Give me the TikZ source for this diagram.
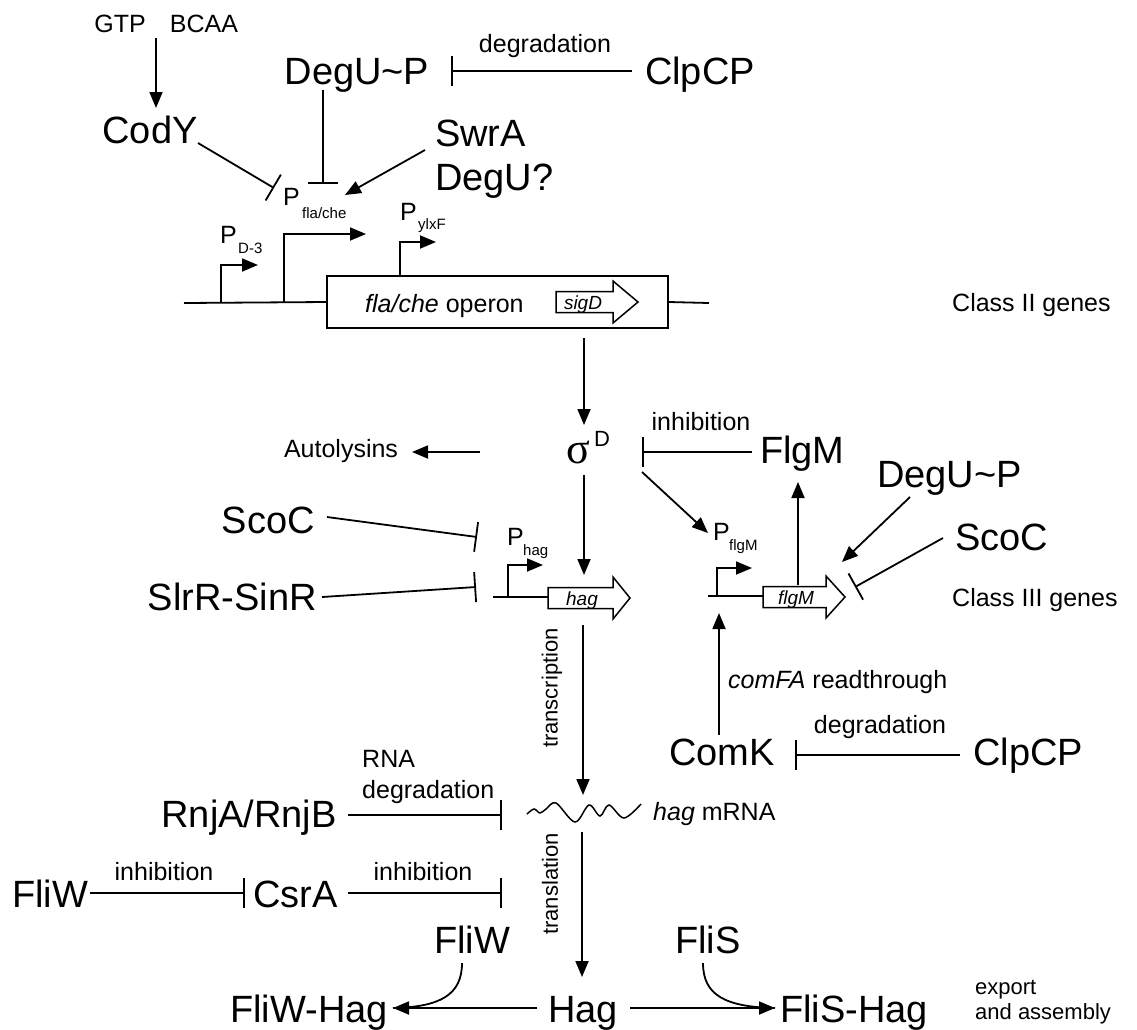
\documentclass[tikz,border=0pt]{standalone}
\usepackage{fontspec}
\setmainfont{Liberation Sans}
\newfontfamily\sigmafont{Liberation Serif}
\usetikzlibrary{arrows.meta}
\newcommand{\drawgene}[4]{%
  \draw[genebox] (#1,#4-10.5) -- (#2,#4-10.5) -- (#2,#4-21) -- (#3,#4) -- (#2,#4+21) -- (#2,#4+10.5) -- (#1,#4+10.5) -- cycle;}
\begin{document}
\begin{tikzpicture}[x=1pt,y=-1pt,
  big/.style={font=\fontsize{38}{40}\selectfont, inner sep=0pt},
  med/.style={font=\fontsize{25}{27}\selectfont, inner sep=0pt},
  small/.style={font=\fontsize{22}{26}\selectfont, inner sep=0pt},
  subs/.style={font=\fontsize{15}{17}\selectfont, inner sep=0pt},
  gtxt/.style={font=\fontsize{19}{21}\selectfont\itshape, inner sep=0pt},
  ln/.style={line width=1.8pt},
  act/.style={ln, -{Triangle[length=16pt,width=13pt]}},
  inh/.style={ln, -{Bar[width=30pt]}},
  genebox/.style={line width=1.5pt, fill=white},
]
\useasboundingbox (0,0) rectangle (1137,1029);

% ---------- top ----------
\node[med, anchor=base] (gtp) at (120,32) {GTP};
\node[med, anchor=base] (bcaa) at (204,32) {BCAA};
\node[big, anchor=base] (cody) at (150,143) {CodY};
\coordinate (gbs) at (156,38); \coordinate (gbe) at (156,108);
\draw[act] (gbs) -- (gbe);

\node[big, anchor=base] (degutop) at (357,84) {DegU\textasciitilde P};
\node[big, anchor=base] (clpctop) at (700,84) {ClpCP};
\node[med, anchor=base] (degrad1) at (545,52) {degradation};
\coordinate (c1s) at (632,71); \coordinate (c1e) at (451,71);
\draw[inh] (c1s) -- (c1e);

\node[big, anchor=base west] (swra) at (435,146) {SwrA};
\node[big, anchor=base west] (deguq) at (435,190) {DegU?};

\node[med, anchor=base west] (pfla) at (283,205) {P};
\node[subs, anchor=base west] (pflasub) at (302,218) {fla/che};

\coordinate (cys) at (198,143); \coordinate (cye) at (274,188);
\draw[inh] (cys) -- (cye);
\coordinate (dus) at (323,90); \coordinate (due) at (323,184);
\draw[inh] (dus) -- (due);
\coordinate (sws) at (425,150); \coordinate (swe) at (345,195);
\draw[act] (sws) -- (swe);

% ---------- operon ----------
\coordinate (dnaL) at (184,303); \coordinate (dnaR) at (709,303);
\node[draw, line width=1.8pt, minimum width=341pt, minimum height=52pt, inner sep=0pt] (opbox) at (497.5,302) {};
\draw[ln] (dnaL) -- (opbox.west);
\draw[ln] (opbox.east) -- (dnaR);
\node[med, anchor=base west] (optext) at (365,312) {\textit{fla/che} operon};
\drawgene{556}{613}{638}{302}
\node[gtxt, anchor=base] (sigd) at (583,309) {sigD};

\coordinate (pd3a) at (221,303); \coordinate (pd3b) at (221,265); \coordinate (pd3c) at (258,265);
\draw[act] (pd3a) -- (pd3b) -- (pd3c);
\node[med, anchor=base west] (pd3) at (220,243) {P};
\node[subs, anchor=base west] (pd3sub) at (238,253) {D-3};

\coordinate (pfa) at (284,303); \coordinate (pfb) at (284,234); \coordinate (pfc) at (366,234);
\draw[act] (pfa) -- (pfb) -- (pfc);

\coordinate (pya) at (400,276); \coordinate (pyb) at (400,242); \coordinate (pyc) at (436,242);
\draw[act] (pya) -- (pyb) -- (pyc);
\node[med, anchor=base west] (pylx) at (400,220) {P};
\node[subs, anchor=base west] (pylxsub) at (418,229) {ylxF};

\node[med, anchor=base west] (class2) at (952,311) {Class II genes};

\coordinate (sgs) at (584,338); \coordinate (sge) at (584,425);
\draw[act] (sgs) -- (sge);

% ---------- sigma D ----------
\node[font=\fontsize{44}{46}\selectfont\sigmafont, inner sep=0pt, anchor=base] (sigma) at (578,463) {σ};
\node[font=\fontsize{22}{24}\selectfont, inner sep=0pt, anchor=base west] (sigmaD) at (594,446) {D};

\node[med, anchor=base] (autol) at (341,457) {Autolysins};
\coordinate (aus) at (480,452); \coordinate (aue) at (412,452);
\draw[act] (aus) -- (aue);

\node[big, anchor=base west] (flgmp) at (760,463) {FlgM};
\node[med, anchor=base] (inhib1) at (701,430) {inhibition};
\coordinate (fms) at (752,452); \coordinate (fme) at (642,452);
\draw[inh] (fms) -- (fme);
\coordinate (sfs) at (642,472); \coordinate (sfe) at (708,533);
\draw[act] (sfs) -- (sfe);

% ---------- flgM ----------
\node[med, anchor=base west] (pflgm) at (713,540) {P};
\node[subs, anchor=base west] (pflgmsub) at (729,550) {flgM};
\coordinate (pga) at (717,596); \coordinate (pgb) at (717,568); \coordinate (pgc) at (752,568);
\draw[act] (pga) -- (pgb) -- (pgc);
\coordinate (fdl) at (708,596); \coordinate (fdr) at (763,596);
\draw[ln] (fdl) -- (fdr);
\drawgene{763}{826}{845}{597}
\node[gtxt, anchor=base] (flgmg) at (796,604) {flgM};
\coordinate (ups) at (798,585); \coordinate (upe) at (798,482);
\draw[act] (ups) -- (upe);

\node[big, anchor=base west] (degur) at (877,487) {DegU\textasciitilde P};
\coordinate (drs) at (910,497); \coordinate (dre) at (842,562);
\draw[act] (drs) -- (dre);
\node[big, anchor=base west] (scocr) at (955,550) {ScoC};
\coordinate (scrs) at (943,538); \coordinate (scre) at (855,587);
\draw[inh] (scrs) -- (scre);
\node[med, anchor=base west] (class3) at (952,606) {Class III genes};

\node[big, anchor=base] (comk) at (722,765) {ComK};
\coordinate (cks) at (719,735); \coordinate (cke) at (719,613);
\draw[act] (cks) -- (cke);
\node[med, anchor=base west] (comfa) at (728,688) {\textit{comFA} readthrough};
\node[big, anchor=base west] (clpcb) at (973,765) {ClpCP};
\coordinate (cbs) at (960,755); \coordinate (cbe) at (795,755);
\draw[inh] (cbs) -- (cbe);
\node[med, anchor=base] (degrad2) at (880,733) {degradation};

% ---------- hag ----------
\coordinate (shs) at (584,475); \coordinate (she) at (584,575);
\draw[act] (shs) -- (she);
\coordinate (pha) at (508,597); \coordinate (phb) at (508,565); \coordinate (phc) at (543,565);
\draw[act] (pha) -- (phb) -- (phc);
\node[med, anchor=base west] (phag) at (507,545) {P};
\node[subs, anchor=base west] (phagsub) at (523,555) {hag};
\coordinate (hdl) at (493,597); \coordinate (hdr) at (548,597);
\draw[ln] (hdl) -- (hdr);
\drawgene{548}{613}{630}{598}
\node[gtxt, anchor=base] (hagg) at (582,605) {hag};

\node[big, anchor=base east] (scocl) at (315,533) {ScoC};
\coordinate (scls) at (327,517); \coordinate (scle) at (477,537);
\draw[inh] (scls) -- (scle);
\node[big, anchor=base east] (slrr) at (317,610) {SlrR-SinR};
\coordinate (sls) at (322,597); \coordinate (sle) at (476,587);
\draw[inh] (sls) -- (sle);

\coordinate (trs) at (583,625); \coordinate (tre) at (583,795);
\draw[act] (trs) -- (tre);
\node[small, rotate=90] (transcr) at (552,688) {transcription};

% ---------- mRNA ----------
\draw[line width=1.5pt] plot[smooth, tension=0.55] coordinates {(527,814) (534,809) (540,813) (546,809) (556,803) (575,822) (589,805) (600,816) (609,805) (624,818) (641,804)};
\node[med, anchor=base west] (hagm) at (653,820) {\textit{hag} mRNA};
\node[med, anchor=base west] (rna) at (362,767) {RNA};
\node[med, anchor=base west] (degrad3) at (362,798) {degradation};
\node[big, anchor=base east] (rnj) at (337,827) {RnjA/RnjB};
\coordinate (rjs) at (348,815); \coordinate (rje) at (502,815);
\draw[inh] (rjs) -- (rje);

\node[big, anchor=base west] (fliw1) at (12,907) {FliW};
\coordinate (fws) at (90,893); \coordinate (fwe) at (245,893);
\draw[inh] (fws) -- (fwe);
\node[med, anchor=base] (inhib2) at (164,880) {inhibition};
\node[big, anchor=base west] (csra) at (253,907) {CsrA};
\coordinate (css) at (348,893); \coordinate (cse) at (502,893);
\draw[inh] (css) -- (cse);
\node[med, anchor=base] (inhib3) at (423,880) {inhibition};

\coordinate (tls) at (582,832); \coordinate (tle) at (582,977);
\draw[act] (tls) -- (tle);
\node[small, rotate=90] (transl) at (550,884) {translation};

% ---------- bottom ----------
\node[big, anchor=base] (fliw2) at (472,953) {FliW};
\node[big, anchor=base] (flis) at (708,953) {FliS};
\node[big, anchor=base] (hag) at (583,1022) {Hag};
\node[big, anchor=base east] (fliwhag) at (388,1022) {FliW-Hag};
\node[big, anchor=base west] (flishag) at (780,1022) {FliS-Hag};
\coordinate (hls) at (537,1008); \coordinate (hle) at (393,1008);
\draw[act] (hls) -- (hle);
\coordinate (hrs) at (630,1008); \coordinate (hre) at (775,1008);
\draw[act] (hrs) -- (hre);
\coordinate (fwc) at (462,963); \coordinate (fsc) at (703,963);
\draw[ln] (fwc) .. controls (462,995) and (440,1007) .. (hle);
\draw[ln] (fsc) .. controls (703,995) and (725,1007) .. (hre);
\node[small, anchor=base west] (export) at (975,994) {export};
\node[small, anchor=base west] (assembly) at (975,1019) {and assembly};
\end{tikzpicture}
\end{document}
